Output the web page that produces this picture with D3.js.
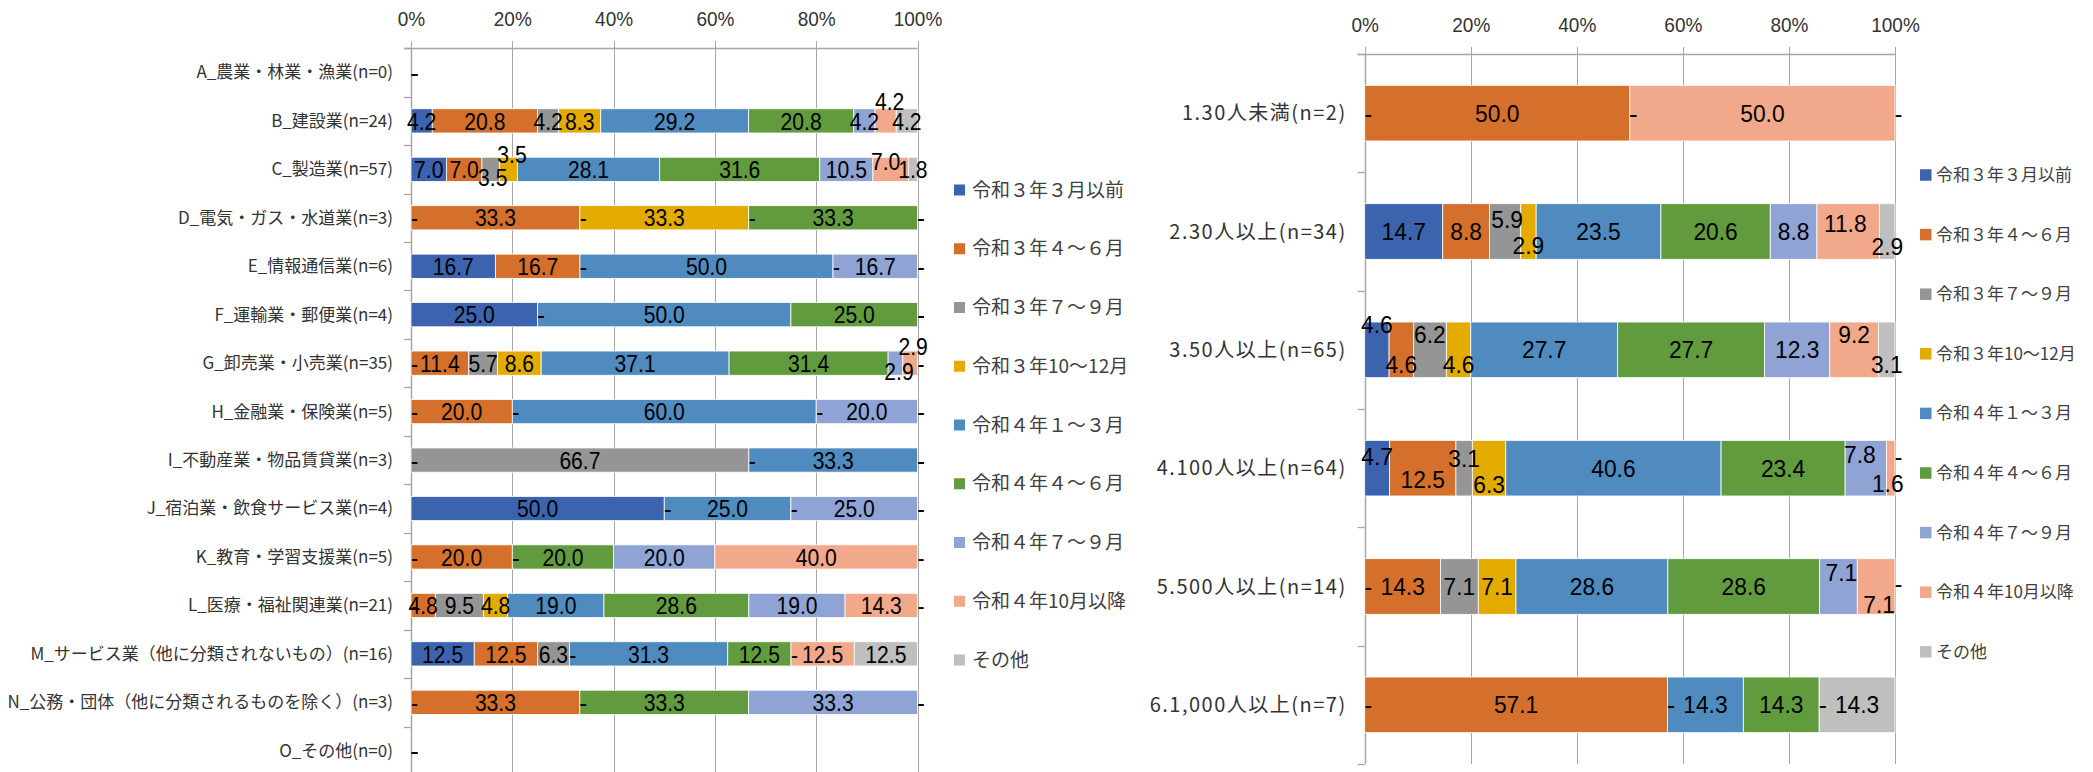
<!DOCTYPE html>
<html><head><meta charset="utf-8">
<script src="https://cdn.jsdelivr.net/npm/d3@7"></script>
<style>
html,body{margin:0;padding:0;background:#fff;}
svg{display:block;}
</style></head><body>
<svg id="chart" width="2093" height="772"></svg>
<script>
// ---------- data ----------
const seriesNames = ["令和３年３月以前","令和３年４～６月","令和３年７～９月","令和３年10～12月","令和４年１～３月","令和４年４～６月","令和４年７～９月","令和４年10月以降","その他"];
const seriesColors = ["#3C64AE","#D4702B","#959595","#E3AA00","#4F8BBF","#629B3E","#8FA3D5","#F2A88A","#BFBFBF"];
const tickValues = [0,20,40,60,80,100];

const industryCategories = ["A_農業・林業・漁業(n=0)","B_建設業(n=24)","C_製造業(n=57)","D_電気・ガス・水道業(n=3)","E_情報通信業(n=6)","F_運輸業・郵便業(n=4)","G_卸売業・小売業(n=35)","H_金融業・保険業(n=5)","I_不動産業・物品賃貸業(n=3)","J_宿泊業・飲食サービス業(n=4)","K_教育・学習支援業(n=5)","L_医療・福祉関連業(n=21)","M_サービス業（他に分類されないもの）(n=16)","N_公務・団体（他に分類されるものを除く）(n=3)","O_その他(n=0)"];
const ind_R3_1 = [0,4.2,7.0,0,16.7,25.0,0,0,0,50.0,0,0,12.5,0,0];
const ind_R3_2 = [0,20.8,7.0,33.3,16.7,0,11.4,20.0,0,0,20.0,4.8,12.5,33.3,0];
const ind_R3_3 = [0,4.2,3.5,0,0,0,5.7,0,66.7,0,0,9.5,6.3,0,0];
const ind_R3_4 = [0,8.3,3.5,33.3,0,0,8.6,0,0,0,0,4.8,0,0,0];
const ind_R4_1 = [0,29.2,28.1,0,50.0,50.0,37.1,60.0,33.3,25.0,0,19.0,31.3,0,0];
const ind_R4_2 = [0,20.8,31.6,33.3,0,25.0,31.4,0,0,0,20.0,28.6,12.5,33.3,0];
const ind_R4_3 = [0,4.2,10.5,0,16.7,0,2.9,20.0,0,25.0,20.0,19.0,0,33.3,0];
const ind_R4_4 = [0,4.2,7.0,0,0,0,2.9,0,0,0,40.0,14.3,12.5,0,0];
const ind_other = [0,4.2,1.8,0,0,0,0,0,0,0,0,0,12.5,0,0];

const sizeCategories = ["1.30人未満(n=2)","2.30人以上(n=34)","3.50人以上(n=65)","4.100人以上(n=64)","5.500人以上(n=14)","6.1,000人以上(n=7)"];
const size_R3_1 = [0,14.7,4.6,4.7,0,0];
const size_R3_2 = [50.0,8.8,4.6,12.5,14.3,57.1];
const size_R3_3 = [0,5.9,6.2,3.1,7.1,0];
const size_R3_4 = [0,2.9,4.6,6.3,7.1,0];
const size_R4_1 = [0,23.5,27.7,40.6,28.6,14.3];
const size_R4_2 = [0,20.6,27.7,23.4,28.6,14.3];
const size_R4_3 = [0,8.8,12.3,7.8,7.1,0];
const size_R4_4 = [50.0,11.8,9.2,1.6,7.1,0];
const size_other = [0,2.9,3.1,0,0,14.3];

// label displacement (manually moved labels in the original)
const leftNudges = [
  {r:1,s:7,dx:4,dy:-20},
  {r:2,s:2,dx:2,dy:8},{r:2,s:3,dx:3.5,dy:-15},{r:2,s:7,dx:-5,dy:-8},
  {r:6,s:6,dx:3.5,dy:8},{r:6,s:7,dx:3,dy:-17}
];
const rightNudges = [
  {r:1,s:2,dx:2,dy:-12},{r:1,s:3,dx:0,dy:14},{r:1,s:7,dx:-3,dy:-8},{r:1,s:8,dx:0,dy:15},
  {r:2,s:0,dx:0,dy:-25},{r:2,s:1,dx:0,dy:15},{r:2,s:2,dx:0,dy:-15},{r:2,s:3,dx:0,dy:15},{r:2,s:7,dx:0,dy:-15},{r:2,s:8,dx:0,dy:15},
  {r:3,s:0,dx:0,dy:-12},{r:3,s:1,dx:0,dy:11},{r:3,s:2,dx:0,dy:-10},{r:3,s:3,dx:0,dy:16},{r:3,s:6,dx:-6,dy:-14},{r:3,s:7,dx:-3,dy:15},{r:3,s:8,dx:0,dy:-12},
  {r:4,s:6,dx:3,dy:-14},{r:4,s:7,dx:3,dy:18},{r:4,s:8,dx:0,dy:-3}
];

// ---------- drawing ----------
const svg = d3.select("#chart");
svg.append("rect").attr("width",2093).attr("height",772).attr("fill","#fff");
const numFont = "'Liberation Sans', Arial, sans-serif";
const jpFont = "'Noto Sans CJK JP', 'Noto Sans', sans-serif";
const gridColor = "#A6A6A6";

function drawPanel(cfg){
  const cats = cfg.cats;
  const table = cats.map((c,i)=>{const o={cat:c}; seriesNames.forEach((s,j)=>o[s]=cfg.series[j][i]); return o;});
  const stacked = d3.stack().keys(seriesNames).offset(d3.stackOffsetExpand)(table);
  const x = d3.scaleLinear().domain([0,1]).range(cfg.xRange);
  const y = d3.scaleBand().domain(cats).range(cfg.yRange).paddingInner(cfg.padInner).paddingOuter(cfg.padInner/2);
  const g = svg.append("g");
  const top = cfg.yRange[0], bottom = cfg.yRange[1];

  // gridlines
  g.append("g").selectAll("line").data(tickValues).join("line")
    .attr("x1",d=>Math.round(x(d/100))+0.5).attr("x2",d=>Math.round(x(d/100))+0.5)
    .attr("y1",top-7).attr("y2",bottom)
    .attr("stroke",gridColor).attr("stroke-width",1);

  // value axis (top)
  const ax = g.append("g").attr("transform",`translate(0,${top})`)
    .call(d3.axisTop(x).tickValues(tickValues.map(v=>v/100)).tickFormat(d3.format(".0%")).tickSize(7).tickSizeOuter(0));
  ax.select(".domain").remove();
  ax.selectAll(".tick line").remove();
  ax.selectAll("text").attr("y",null).attr("dy",null)
    .attr("transform",`translate(0,${-cfg.tickLabelOffset}) scale(${cfg.tickScale},1)`)
    .attr("dominant-baseline","central")
    .attr("font-family",numFont).attr("font-size",cfg.tickFont).attr("fill","#333");

  // axis lines
  g.append("line").attr("x1",x(0)-7).attr("x2",x(1)).attr("y1",Math.round(top)+0.5).attr("y2",Math.round(top)+0.5)
    .attr("stroke",gridColor).attr("stroke-width",1.3);
  g.append("line").attr("x1",Math.round(x(0))+0.5).attr("x2",Math.round(x(0))+0.5).attr("y1",top).attr("y2",bottom)
    .attr("stroke",gridColor).attr("stroke-width",1.5);
  // category boundary ticks
  const step = y.step();
  g.append("g").selectAll("line").data(d3.range(cats.length+1)).join("line")
    .attr("x1",x(0)-7).attr("x2",x(0))
    .attr("y1",k=>Math.round(top+k*step)+0.5).attr("y2",k=>Math.round(top+k*step)+0.5)
    .attr("stroke",gridColor).attr("stroke-width",1.3);

  // category labels
  const ay = g.append("g").attr("transform",`translate(${x(0)},0)`)
    .call(d3.axisLeft(y).tickSize(0).tickPadding(cfg.catPad));
  ay.select(".domain").remove();
  ay.selectAll("text").attr("font-family",jpFont).attr("font-size",cfg.catFont)
    .attr("fill","#333").attr("letter-spacing",cfg.catSpacing).attr("dy","0.35em");

  // bars
  stacked.forEach((layer,si)=>{
    g.append("g").selectAll("rect").data(layer.filter(d=>d[1]-d[0]>0)).join("rect")
      .attr("x",d=>x(d[0])).attr("width",d=>x(d[1])-x(d[0]))
      .attr("y",d=>y(d.data.cat)).attr("height",y.bandwidth())
      .attr("fill",seriesColors[si]).attr("stroke","#fff").attr("stroke-width",0.8);
  });

  // labels
  const nud = {};
  cfg.nudges.forEach(n=>{nud[n.r+"_"+n.s]=n;});
  stacked.forEach((layer,si)=>{
    layer.forEach((d,ri)=>{
      const v = d.data[seriesNames[si]];
      const n = nud[ri+"_"+si] || {dx:0,dy:0};
      const isZero = v===0;
      const cx = (x(d[0])+x(d[1]))/2 + n.dx + (isZero?3.5:0);
      const cy = y(d.data.cat)+y.bandwidth()/2 + n.dy;
      g.append("text")
        .attr("transform",`translate(${cx},${cy}) scale(${cfg.labelScale},1)`)
        .attr("dy","0.36em").attr("text-anchor","middle")
        .attr("font-family",numFont).attr("font-size",cfg.labelFont).attr("fill","#000")
        .text(isZero ? "-" : d3.format(".1f")(v));
    });
  });
}

drawPanel({
  cats: industryCategories,
  series: [ind_R3_1,ind_R3_2,ind_R3_3,ind_R3_4,ind_R4_1,ind_R4_2,ind_R4_3,ind_R4_4,ind_other],
  xRange:[411,917.5], yRange:[48.2,775], padInner:0.5,
  labelFont:24, labelScale:0.88, tickFont:20, tickScale:0.95, tickLabelOffset:29, catFont:17, catPad:18, catSpacing:0,
  nudges:leftNudges
});
drawPanel({
  cats: sizeCategories,
  series: [size_R3_1,size_R3_2,size_R3_3,size_R3_4,size_R4_1,size_R4_2,size_R4_3,size_R4_4,size_other],
  xRange:[1364.7,1895], yRange:[54,764], padInner:0.53,
  labelFont:24, labelScale:0.95, tickFont:20, tickScale:0.95, tickLabelOffset:29, catFont:20, catPad:18, catSpacing:1.5,
  nudges:rightNudges
});

// legends
function drawLegend(x0, y0, gap, sq, textX, fontSize){
  const lg = svg.append("g");
  seriesNames.forEach((name,i)=>{
    const cy = y0 + i*gap;
    lg.append("rect").attr("x",x0).attr("y",cy-sq/2).attr("width",sq).attr("height",sq).attr("fill",seriesColors[i]);
    lg.append("text").attr("x",textX).attr("y",cy).attr("dy","0.35em")
      .attr("font-family",jpFont).attr("font-size",fontSize).attr("fill","#404040").text(name);
  });
}
drawLegend(954, 190, 58.75, 11, 972, 19);
drawLegend(1920, 175, 59.6, 11.5, 1936, 17);
</script>
</body></html>
